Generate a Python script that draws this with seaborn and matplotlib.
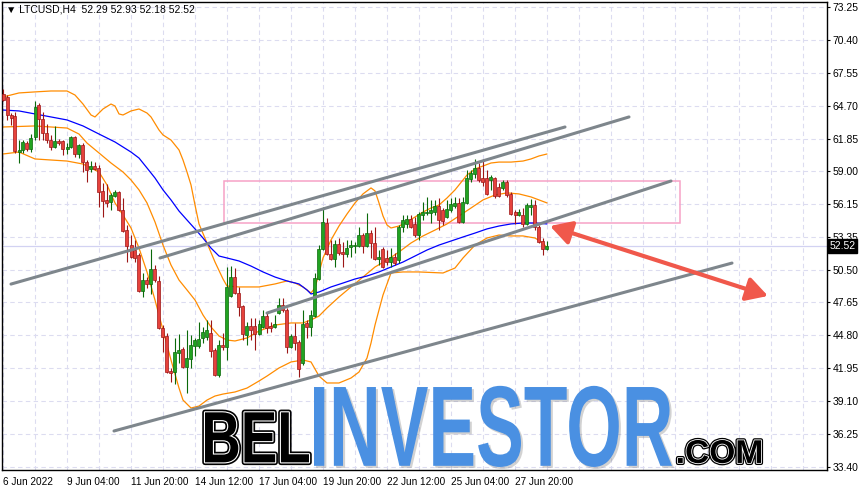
import matplotlib
matplotlib.use("Agg")
import matplotlib.pyplot as plt
import matplotlib.patheffects as pe
import numpy as np
import pandas as pd
import seaborn as sns
from matplotlib.font_manager import FontProperties
from matplotlib.patches import FancyArrowPatch, Rectangle
from matplotlib.textpath import TextPath
from matplotlib.transforms import Affine2D, blended_transform_factory

# ---- data (H4 bars, bar 0 = 6 Jun 2022 00:00) ----
symbol = "LTCUSD,H4"
date_bars = [0, 16, 32, 48, 64, 80, 96, 112, 128]
date_labels = ["6 Jun 2022", "9 Jun 04:00", "11 Jun 20:00", "14 Jun 12:00",
               "17 Jun 04:00", "19 Jun 20:00", "22 Jun 12:00", "25 Jun 04:00",
               "27 Jun 20:00"]
price_ticks = [73.25, 70.40, 67.55, 64.70, 61.85, 59.00, 56.15, 53.35,
               50.50, 47.65, 44.80, 41.95, 39.10, 36.25, 33.40]

bar_open = [65.71, 65.45, 63.89, 63.80, 60.68, 60.86, 61.46, 60.94, 61.98, 64.76,
            63.54, 62.33, 61.72, 61.12, 61.64, 61.64, 60.94, 61.12, 61.98, 60.51,
            61.29, 59.81, 59.21, 59.47, 59.30, 57.31, 56.53, 56.35, 56.88, 57.23,
            55.66, 53.92, 52.62, 52.19, 51.76, 48.64, 49.59, 49.25, 50.54, 49.51,
            45.43, 44.74, 41.71, 41.62, 43.27, 43.61, 42.05, 42.75, 43.87, 43.87,
            44.57, 44.65, 45.00, 43.53, 41.36, 43.96, 43.79, 48.21, 49.85, 48.47,
            47.34, 44.83, 45.61, 45.61, 44.91, 45.52, 46.47, 45.61, 45.52, 46.73,
            47.43, 46.99, 43.79, 44.74, 44.22, 42.40, 45.87, 45.52, 46.47, 49.68,
            52.28, 54.53, 51.84, 51.41, 52.71, 52.02, 51.84, 52.45, 52.54, 52.54,
            53.49, 52.54, 53.66, 52.80, 51.41, 52.28, 51.50, 51.15, 51.58, 51.32,
            54.19, 54.45, 54.88, 54.45, 53.49, 55.22, 55.40, 55.40, 55.48, 56.00,
            55.66, 55.05, 55.66, 56.00, 56.27, 54.62, 56.27, 58.35, 58.78, 59.30,
            58.43, 58.43, 58.26, 58.43, 57.66, 57.57, 58.09, 57.05, 55.48, 55.22,
            55.22, 54.45, 55.92, 56.09, 54.19, 52.97, 52.29]
bar_high = [66.14, 65.62, 64.06, 64.15, 61.72, 61.72, 61.64, 62.27, 65.10, 64.93,
            64.15, 63.11, 62.16, 62.94, 61.81, 61.72, 61.46, 62.07, 62.07, 61.38,
            61.46, 59.99, 59.90, 59.81, 59.56, 58.00, 57.91, 57.14, 57.40, 57.31,
            56.70, 54.36, 53.49, 53.06, 51.93, 50.20, 49.85, 52.28, 50.89, 49.94,
            45.69, 45.00, 41.97, 44.57, 44.91, 43.79, 45.26, 44.83, 44.57, 45.95,
            45.52, 46.13, 46.13, 43.70, 44.39, 45.00, 50.72, 50.80, 50.63, 48.99,
            47.43, 45.95, 46.30, 46.30, 46.13, 46.99, 46.82, 45.95, 46.56, 48.03,
            48.03, 47.17, 44.91, 45.87, 44.39, 46.99, 46.13, 46.99, 50.20, 52.62,
            55.92, 54.97, 53.06, 53.06, 53.23, 52.88, 53.06, 53.06, 52.88, 54.19,
            53.66, 55.40, 53.92, 54.19, 52.19, 52.45, 52.19, 52.36, 51.93, 54.36,
            55.22, 55.22, 55.22, 55.05, 55.48, 56.35, 56.79, 56.53, 56.53, 56.70,
            55.83, 56.53, 56.70, 56.79, 56.70, 56.79, 59.12, 59.12, 60.08, 59.73,
            60.08, 59.12, 58.69, 58.52, 58.00, 58.26, 58.26, 57.23, 55.66, 55.75,
            55.83, 56.27, 56.61, 56.53, 54.36, 53.23, 52.93]
bar_low = [65.10, 63.46, 63.02, 60.60, 59.73, 60.60, 60.77, 60.68, 61.72, 61.72,
           61.72, 61.46, 60.86, 61.03, 61.29, 60.42, 60.51, 61.03, 60.25, 60.16,
           58.95, 58.09, 58.95, 59.12, 55.92, 55.05, 55.92, 55.66, 56.79, 55.57,
           53.75, 51.15, 51.50, 51.15, 48.55, 48.12, 48.90, 48.38, 49.42, 45.35,
           43.35, 41.53, 40.75, 40.58, 42.40, 41.97, 39.80, 41.97, 43.01, 43.70,
           44.13, 44.39, 42.92, 41.27, 41.19, 43.53, 42.66, 48.12, 48.38, 46.47,
           44.39, 43.96, 44.39, 43.53, 44.83, 45.43, 45.00, 45.09, 45.43, 46.65,
           46.82, 43.27, 43.70, 43.53, 41.19, 42.23, 44.57, 44.74, 46.39, 49.59,
           52.19, 51.76, 51.32, 50.72, 51.76, 50.72, 51.58, 51.58, 51.93, 52.45,
           51.93, 52.45, 51.50, 51.32, 50.89, 50.63, 50.89, 50.72, 50.89, 51.06,
           53.75, 54.10, 54.10, 53.32, 53.06, 54.79, 55.22, 54.53, 55.22, 53.92,
           54.36, 54.97, 55.48, 55.83, 54.53, 54.53, 56.18, 58.09, 58.43, 58.09,
           57.74, 56.96, 57.40, 56.70, 56.79, 57.40, 56.79, 55.22, 54.45, 55.14,
           54.19, 54.36, 55.22, 53.92, 52.80, 51.76, 52.18]
bar_close = [65.19, 63.89, 63.63, 60.77, 60.86, 61.55, 60.94, 61.90, 64.58, 63.54,
             62.33, 61.72, 61.12, 61.64, 61.46, 60.94, 61.12, 61.98, 60.51, 61.29,
             59.81, 59.12, 59.47, 59.21, 57.23, 56.44, 56.27, 56.96, 57.23, 55.66,
             53.84, 52.54, 51.58, 51.50, 48.64, 49.59, 49.25, 50.54, 49.59, 45.43,
             44.65, 41.62, 41.53, 43.35, 43.53, 42.05, 42.83, 43.96, 44.39, 44.48,
             45.09, 45.26, 43.44, 41.36, 43.96, 43.79, 48.99, 49.85, 48.47, 47.25,
             44.91, 45.61, 45.26, 44.91, 45.78, 46.47, 45.43, 45.43, 45.78, 47.43,
             46.99, 43.79, 44.74, 44.13, 41.88, 45.78, 45.52, 46.56, 49.77, 52.28,
             54.62, 51.84, 51.41, 52.71, 51.93, 51.84, 52.36, 52.62, 52.62, 53.49,
             52.54, 53.66, 52.80, 51.41, 51.58, 50.72, 51.15, 51.58, 51.06, 54.19,
             54.79, 54.88, 54.19, 53.49, 55.31, 55.48, 55.48, 55.66, 56.00, 54.79,
             54.71, 55.75, 56.18, 56.27, 54.62, 56.35, 58.43, 58.86, 59.30, 58.26,
             58.09, 57.05, 58.52, 56.88, 56.88, 58.09, 56.96, 55.31, 55.22, 55.48,
             54.45, 56.09, 56.09, 54.19, 52.88, 52.28, 52.52]

# Bollinger bands and moving average, sampled along the curves
bb_upper_bar = [0, 4, 8, 12, 16, 18, 20, 22, 23, 25, 27, 28, 29, 30, 32, 34, 36, 37, 39, 40,
                42, 44, 45, 46, 47, 48, 49, 51, 53, 55, 56, 59, 64, 68, 71, 73, 75, 77, 78, 79,
                80, 82, 84, 86, 88, 90, 92, 93, 94, 95, 96, 97, 99, 101, 103, 105, 107, 109,
                111, 113, 115, 116, 118, 120, 122, 124, 127, 130, 132, 134, 136]
bb_upper = [65.45, 65.80, 65.89, 65.97, 65.97, 65.62, 64.84, 63.89, 63.72, 64.41, 64.84, 64.67,
            63.98, 63.89, 64.24, 64.41, 64.06, 63.72, 62.59, 62.16, 61.72, 60.86, 59.99, 58.95,
            57.83, 56.09, 54.45, 52.80, 51.15, 49.68, 49.07, 48.99, 48.99, 49.25, 49.51, 49.33,
            48.99, 48.47, 48.90, 50.20, 51.50, 53.06, 54.27, 55.31, 56.27, 57.05, 57.57, 57.31,
            56.27, 55.14, 54.36, 54.10, 54.27, 54.62, 55.05, 55.48, 55.83, 56.09, 56.70, 57.40,
            58.26, 58.69, 59.21, 59.47, 59.73, 59.81, 59.81, 59.90, 60.08, 60.34, 60.51]
bb_mid_bar = [0, 8, 16, 19, 21, 24, 27, 30, 32, 34, 36, 38, 40, 42, 44, 46, 48, 50, 52, 54,
              56, 58, 61, 64, 68, 72, 75, 77, 79, 81, 84, 87, 90, 93, 96, 99, 102, 105, 108,
              111, 114, 117, 120, 123, 126, 129, 132, 136]
bb_mid = [62.85, 62.94, 62.76, 62.24, 61.46, 60.60, 59.73, 58.95, 58.26, 57.40, 56.27, 54.62,
          52.62, 50.89, 49.59, 48.73, 47.86, 46.56, 45.52, 44.74, 44.39, 44.31, 44.57, 45.17,
          45.69, 45.87, 45.87, 46.13, 46.47, 47.17, 48.12, 48.99, 49.85, 50.72, 51.32, 52.02,
          52.80, 53.41, 53.92, 54.45, 55.14, 55.83, 56.53, 56.96, 57.14, 57.05, 56.79, 56.27]
bb_lower_bar = [0, 4, 8, 12, 16, 20, 24, 26, 28, 30, 32, 34, 36, 38, 40, 42, 44, 45, 47, 49,
                51, 53, 55, 58, 61, 64, 66, 69, 72, 75, 77, 79, 81, 84, 87, 89, 91, 92, 93, 94,
                95, 97, 100, 104, 110, 113, 115, 118, 121, 124, 127, 130, 133, 135, 136]
bb_lower = [60.51, 60.68, 60.08, 59.99, 59.90, 59.64, 58.95, 57.83, 56.27, 55.22, 54.10, 52.36,
            50.29, 47.86, 45.26, 42.66, 40.23, 39.19, 38.50, 38.67, 39.19, 39.54, 39.71, 39.89,
            40.23, 40.84, 41.27, 41.97, 42.49, 42.66, 42.49, 41.27, 40.67, 40.67, 41.10, 41.62,
            42.83, 44.13, 45.69, 47.00, 48.29, 50.20, 50.29, 50.29, 50.20, 50.63, 51.50, 52.62,
            53.23, 53.49, 53.41, 53.41, 53.23, 52.80, 52.36]
ma_bar = [0, 4, 8, 12, 16, 20, 24, 28, 32, 34, 36, 38, 40, 42, 44, 46, 48, 50, 52, 54, 56, 59,
          62, 65, 68, 71, 74, 76, 77, 79, 82, 85, 88, 91, 94, 97, 100, 103, 106, 109, 112, 115,
          118, 121, 124, 127, 130, 133, 136]
ma_slow = [64.32, 64.24, 63.98, 63.72, 63.46, 62.94, 62.24, 61.55, 60.68, 60.16, 59.30, 58.43,
           57.40, 56.53, 55.57, 54.79, 54.02, 53.23, 52.36, 51.67, 51.50, 51.24, 50.80, 50.29,
           49.85, 49.51, 49.25, 48.73, 48.38, 48.55, 48.99, 49.33, 49.68, 49.94, 50.29, 50.72,
           51.15, 51.67, 52.19, 52.62, 52.97, 53.32, 53.66, 54.02, 54.27, 54.45, 54.53, 54.53,
           54.45]

# drawn objects: trend lines, zone, forecast arrow (bar, price)
trend_bar0 = [2.0, 39.25, 66.0, 27.75]
trend_price0 = [49.24, 51.50, 46.73, 36.51]
trend_bar1 = [140.5, 156.5, 167.0, 182.25]
trend_price1 = [62.85, 63.72, 58.17, 51.06]
zone_bars = [55.25, 169.25]
zone_prices = [54.53, 58.17]
arrow_bars = [136.75, 191.25]
arrow_prices = [54.27, 48.21]

W, H, DPI = 866, 491, 100

sns.set_style("white")
plt.rcParams['font.family'] = ['Liberation Sans', 'DejaVu Sans']


class Stretch(pe.AbstractPathEffect):
    """stretch a text path vertically (and shift it), then hand it to other effects"""
    def __init__(self, sy, dy, inner):
        super().__init__()
        self.sy = sy
        self.dy = dy
        self.inner = inner

    def draw_path(self, renderer, gc, tpath, affine, rgbFace=None):
        aff = Affine2D().scale(1.0, self.sy) + affine + Affine2D().translate(0, self.dy)
        for eff in self.inner:
            eff.draw_path(renderer, gc, tpath, aff, rgbFace)


fig = plt.figure(figsize=(W / DPI, H / DPI), dpi=DPI)
ax = fig.add_axes([2 / W, 21 / H, 825 / W, 468 / H])
ax.set_xlim(-0.25, 206)
ax.set_ylim(33.13, 73.68)

df = pd.DataFrame({'open': bar_open, 'high': bar_high, 'low': bar_low, 'close': bar_close})
df['bar'] = np.arange(len(df))

# grid
ax.set_xticks(date_bars)
ax.set_xticks(np.arange(0, 207, 8), minor=True)
ax.set_yticks(price_ticks)
ax.set_yticklabels([f"{p:.2f}" for p in price_ticks])
ax.grid(which='both', axis='x', color='#dcdcf0', lw=0.8, ls=(0, (4, 3)), zorder=0)
ax.grid(which='major', axis='y', color='#dcdcf0', lw=0.8, ls=(0, (4, 3)), zorder=0)
ax.set_axisbelow(True)

# last price line
ax.axhline(bar_close[-1], color='#d2d2f2', lw=0.9, zorder=0.6)

# zone
ax.add_patch(Rectangle((zone_bars[0], zone_prices[0]), zone_bars[1] - zone_bars[0],
                       zone_prices[1] - zone_prices[0], fill=False, ec='#f6a2c6', lw=1.1,
                       zorder=1))

# indicators
for xs, ys, col in [(bb_upper_bar, bb_upper, '#ff8c00'), (bb_mid_bar, bb_mid, '#ff8c00'),
                    (bb_lower_bar, bb_lower, '#ff8c00'), (ma_bar, ma_slow, '#0000ff')]:
    sns.lineplot(x=xs, y=ys, ax=ax, color=col, lw=0.9, estimator=None, sort=False,
                 legend=False, zorder=2)

# candles
up = df['close'] >= df['open']
for mask, face, edge in [(up, '#21a321', '#0a690a'), (~up, '#e6423c', '#9c1616')]:
    d = df[mask]
    ax.vlines(d['bar'], d['low'], d['high'], color=edge, lw=0.8, zorder=3)
    ax.bar(d['bar'], (d['close'] - d['open']).abs(), bottom=d[['open', 'close']].min(axis=1),
           width=0.75, color=face, edgecolor=edge, linewidth=0.5, zorder=3.5)

# trend lines
for x0, y0, x1, y1 in zip(trend_bar0, trend_price0, trend_bar1, trend_price1):
    ax.plot([x0, x1], [y0, y1], color='#7e868c', lw=2.2, solid_capstyle='round', zorder=4)

# forecast arrow
ax.add_patch(FancyArrowPatch((arrow_bars[0], arrow_prices[0]), (arrow_bars[1], arrow_prices[1]),
                             arrowstyle='<|-|>,head_length=0.8,head_width=0.45',
                             mutation_scale=16, lw=3, color='#f0584b', shrinkA=0, shrinkB=0,
                             zorder=5))

# axes styling
for s in ax.spines.values():
    s.set_color('black')
    s.set_linewidth(1.0)
ax.yaxis.tick_right()
ax.tick_params(axis='y', which='major', direction='out', length=2.5, width=0.8, pad=1.5,
               labelsize=7.5, colors='black', left=False, right=True)
ax.set_xticklabels(date_labels, ha='left')
ax.tick_params(axis='x', which='major', direction='out', length=3, width=0.8, pad=2,
               labelsize=7.2, colors='black')
ax.tick_params(axis='x', which='minor', length=0)
ax.set_xlabel('')
ax.set_ylabel('')

# last price tag
tag_tr = blended_transform_factory(ax.transAxes, ax.transData)
ax.text(1.003, bar_close[-1], f"{bar_close[-1]:.2f}", transform=tag_tr, ha='left',
        va='center', fontsize=7.5, color='white', zorder=6, clip_on=False,
        bbox=dict(boxstyle='square,pad=0.18', fc='black', ec='black'))

# header
fig.text(6 / W, 1 - 10 / H,
         f"\u25bc {symbol}  {bar_open[-1]:.2f} {bar_high[-1]:.2f} "
         f"{bar_low[-1]:.2f} {bar_close[-1]:.2f}",
         fontsize=7.5, va='center', ha='left', color='black')

# watermark
px = Affine2D().scale(1 / W, 1 / H) + fig.transFigure
logo_font = FontProperties(family=['Liberation Sans Narrow', 'Liberation Sans', 'DejaVu Sans'],
                           weight='bold')
lp_descent = -TextPath((0, 0), "lp", size=1, prop=logo_font).get_extents().y0


def logo_text(s, left, right, top, bottom, color, inner):
    ext = TextPath((0, 0), s, size=1, prop=logo_font).get_extents()
    size_px = (right - left) / ext.width
    sy = (bottom - top) / (ext.y1 * size_px)
    fp = logo_font.copy()
    fp.set_size(size_px * 72 / DPI)
    # layout box bottom sits on the ink bottom; the path is moved down by the descent
    fig.text(left - ext.x0 * size_px, H - bottom, s, transform=px, fontproperties=fp,
             color=color, ha='left', va='bottom', zorder=10,
             path_effects=[Stretch(sy, -lp_descent * size_px, inner)])


outlined = [pe.Stroke(linewidth=4, foreground='black'),
            pe.Stroke(linewidth=1.6, foreground='white'), pe.Normal()]
logo_text("BEL", 205, 309, 413, 463, 'black', outlined)
logo_text("INVESTOR", 314, 672, 386, 466, '#4a90e2',
          [pe.SimplePatchShadow(offset=(1.5, -1.5), shadow_rgbFace='#808080', alpha=0.35),
           pe.Normal()])
logo_text(".COM", 678, 761, 440, 463, 'black',
          [pe.Stroke(linewidth=3, foreground='black'),
           pe.Stroke(linewidth=1.2, foreground='white'), pe.Normal()])

fig.savefig('out.png', dpi=DPI)
